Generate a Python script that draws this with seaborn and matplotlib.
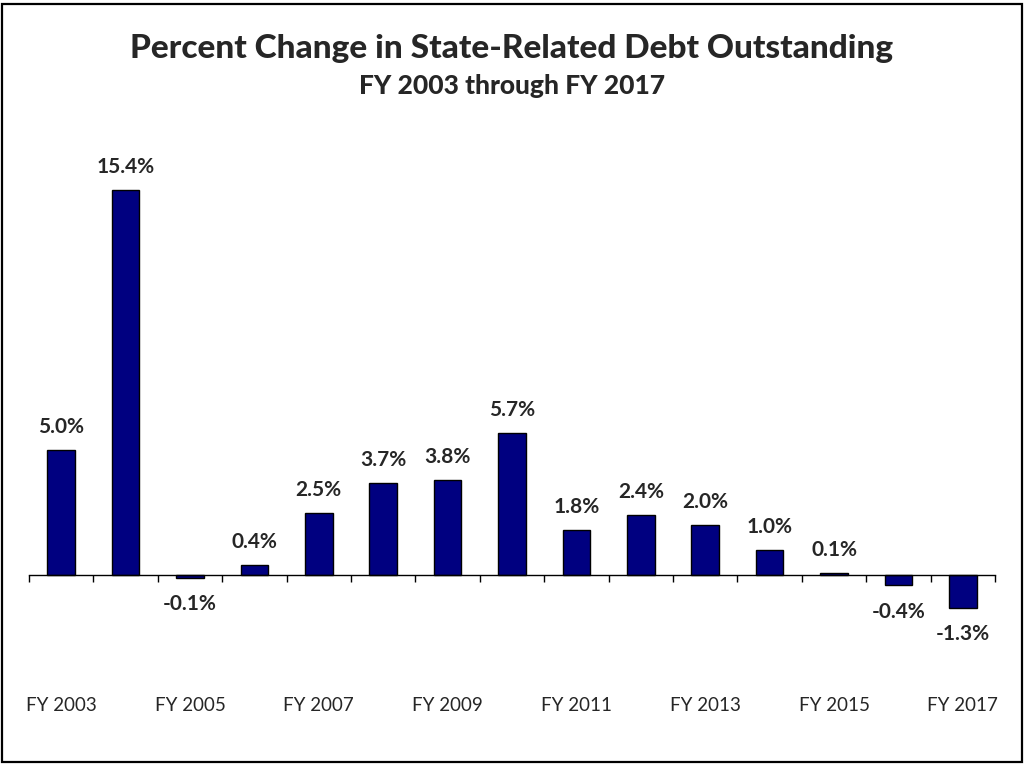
import matplotlib
matplotlib.use("Agg")
import matplotlib.pyplot as plt
import seaborn as sns
from matplotlib.patches import Rectangle

# Data
years = [f"FY {y}" for y in range(2003, 2018)]
pct_change = [5.0, 15.4, -0.1, 0.4, 2.5, 3.7, 3.8, 5.7, 1.8, 2.4, 2.0, 1.0, 0.1, -0.4, -1.3]

sns.set_style("white")
plt.rcParams['font.family'] = ['Lato', 'DejaVu Sans']

fig = plt.figure(figsize=(10.24, 7.65), dpi=100)
# axes placed in pixel terms: x 29..995, y 150..640 (from top)
ax = fig.add_axes([29 / 1024, 1 - 640 / 765, (995 - 29) / 1024, (640 - 150) / 765])

sns.barplot(x=years, y=pct_change, color='#000080', edgecolor='black',
            linewidth=1, width=0.43, saturation=1, ax=ax)

ax.set_xlim(-0.5, len(years) - 0.5)
ax.set_ylim(-2.6, 17)

# value labels
for i, v in enumerate(pct_change):
    if v >= 0:
        ax.annotate(f"{v:.1f}%", (i, v), xytext=(0, 12), textcoords='offset points',
                    ha='center', va='baseline', fontsize=15, fontweight='bold')
    else:
        ax.annotate(f"{v:.1f}%", (i, v), xytext=(0, -12), textcoords='offset points',
                    ha='center', va='top', fontsize=15, fontweight='bold')

# axis styling
for s in ['top', 'right', 'left']:
    ax.spines[s].set_visible(False)
ax.spines['bottom'].set_position(('data', 0))
ax.spines['bottom'].set_color('black')
ax.spines['bottom'].set_linewidth(1)
ax.set_yticks([])
ax.set_xlabel('')
ax.set_ylabel('')

# tick marks at category boundaries, labels at every other category
ax.set_xticks([i - 0.5 for i in range(len(years) + 1)])
ax.set_xticklabels([])
ax.tick_params(axis='x', which='major', direction='out', length=5, width=1, color='black', bottom=True)
ax.set_xticks(range(0, len(years), 2), minor=True)
ax.set_xticklabels([years[i] for i in range(0, len(years), 2)], minor=True)
ax.tick_params(axis='x', which='minor', length=0, pad=88, labelsize=13.5)

fig.text(0.5, 1 - 58 / 765, "Percent Change in State-Related Debt Outstanding",
         ha='center', va='baseline', fontsize=24, fontweight='black')
fig.text(0.5, 1 - 94 / 765, "FY 2003 through FY 2017",
         ha='center', va='baseline', fontsize=19, fontweight='black')

# outer frame
fig.patches.append(Rectangle((1.5 / 1024, 3 / 765), (1022 - 1.5) / 1024, (761 - 3) / 765,
                             transform=fig.transFigure, fill=False,
                             edgecolor='black', linewidth=1.6))

fig.savefig("out.png", dpi=100)
